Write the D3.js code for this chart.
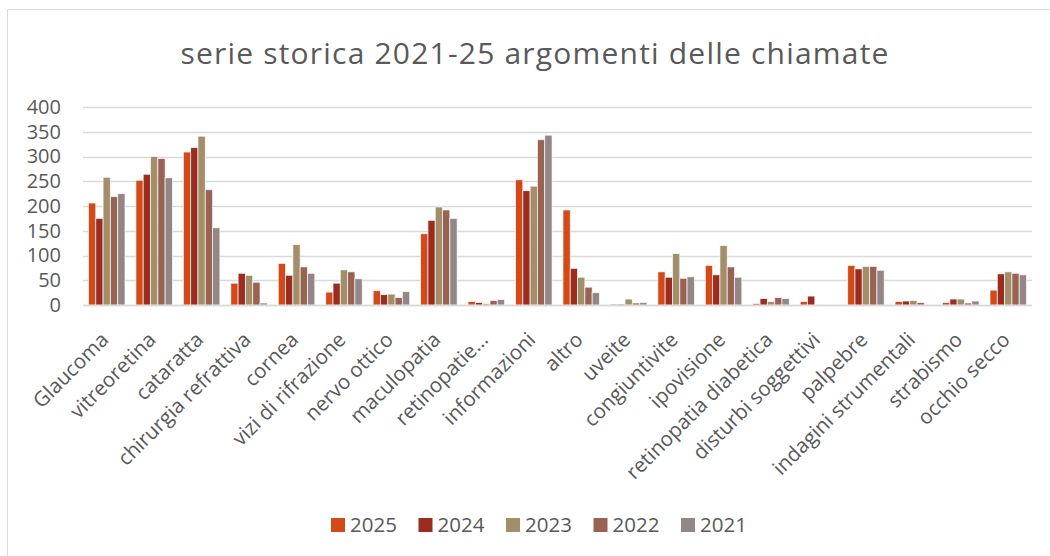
<!DOCTYPE html>
<html>
<head>
<meta charset="utf-8">
<script src="https://cdn.jsdelivr.net/npm/d3@7"></script>
<style>
  html, body { margin: 0; padding: 0; background: #fff; }
  svg { display: block; font-family: "Open Sans", sans-serif; }
</style>
</head>
<body>
<svg id="chart" width="1050" height="556"></svg>
<script>
// Topics of incoming calls, one group of bars per topic
const categories = [
  "Glaucoma", "vitreoretina", "cataratta", "chirurgia refrattiva", "cornea",
  "vizi di rifrazione", "nervo ottico", "maculopatia", "retinopatie…", "informazioni",
  "altro", "uveite", "congiuntivite", "ipovisione", "retinopatia diabetica",
  "disturbi soggettivi", "palpebre", "indagini strumentali", "strabismo", "occhio secco"
];

// Number of calls per year, in the same order as the categories
const years = ["2025", "2024", "2023", "2022", "2021"];
const v2025 = [206, 252, 309, 44, 84, 26, 29, 144, 7, 253, 192, 2, 67, 80, 3, 7, 80, 7, 5, 30];
const v2024 = [175, 264, 318, 64, 60, 44, 21, 171, 5, 231, 74, 2, 56, 61, 13, 18, 73, 8, 12, 63];
const v2023 = [258, 300, 341, 60, 122, 71, 22, 198, 3, 240, 56, 12, 104, 120, 7, 1, 78, 9, 12, 67];
const v2022 = [219, 296, 233, 46, 77, 67, 15, 192, 9, 334, 36, 4, 54, 77, 15, 0, 78, 5, 4, 64];
const v2021 = [225, 257, 156, 4, 64, 53, 27, 175, 11, 343, 25, 5, 57, 56, 13, 0, 70, 0, 8, 61];
const yTicks = [0, 50, 100, 150, 200, 250, 300, 350, 400];

const seriesValues = { "2025": v2025, "2024": v2024, "2023": v2023, "2022": v2022, "2021": v2021 };
const colors = {
  "2025": "#D24A18",
  "2024": "#9C2B20",
  "2023": "#A38E6A",
  "2022": "#986352",
  "2021": "#928686"
};

const svg = d3.select("#chart");
const textColor = "#595959";
const gridColor = "#D9D9D9";

// Outer chart frame (the right and bottom edges fall outside the view)
svg.append("path")
  .attr("d", "M7.5,560 V9.5 H1060")
  .attr("fill", "none")
  .attr("stroke", gridColor)
  .attr("stroke-width", 1);

// Title
svg.append("text")
  .attr("x", 535)
  .attr("y", 64)
  .attr("text-anchor", "middle")
  .attr("fill", textColor)
  .style("font-size", "30px")
  .style("letter-spacing", "1.2px")
  .text("serie storica 2021-25 argomenti delle chiamate");

// Plot area
const plot = { left: 83, right: 1032, top: 107, bottom: 305 };

const y = d3.scaleLinear().domain([0, 400]).range([plot.bottom, plot.top]);
const x0 = d3.scaleBand().domain(categories).range([plot.left, plot.right]);
const bw = x0.bandwidth();
const x1 = d3.scaleBand().domain(years).range([bw * 0.115, bw * 0.885]);

// Horizontal gridlines
svg.append("g")
  .selectAll("line")
  .data(yTicks)
  .join("line")
  .attr("x1", plot.left)
  .attr("x2", plot.right)
  .attr("y1", d => Math.round(y(d)) + 0.5)
  .attr("y2", d => Math.round(y(d)) + 0.5)
  .attr("stroke", gridColor)
  .attr("stroke-width", 1.3);

// Y axis labels
const yAxis = d3.axisLeft(y).tickValues(yTicks).tickSize(0).tickPadding(0);
const yg = svg.append("g")
  .attr("transform", `translate(${plot.left - 22},0)`)
  .call(yAxis);
yg.select(".domain").remove();
yg.selectAll("text")
  .attr("fill", textColor)
  .style("font-size", "20px")
  .style("font-family", "'Open Sans', sans-serif");

// Bars
const groups = svg.append("g")
  .selectAll("g")
  .data(categories)
  .join("g")
  .attr("transform", d => `translate(${x0(d)},0)`);

groups.selectAll("rect")
  .data((d, i) => years.map(yr => ({ year: yr, value: seriesValues[yr][i] })))
  .join("rect")
  .attr("x", d => x1(d.year))
  .attr("width", x1.bandwidth())
  .attr("y", d => y(d.value))
  .attr("height", d => plot.bottom - y(d.value))
  .attr("fill", d => colors[d.year])
  .attr("stroke", "rgba(255,255,255,0.75)")
  .attr("stroke-width", 0.9);

// Baseline
svg.append("line")
  .attr("x1", plot.left)
  .attr("x2", plot.right)
  .attr("y1", plot.bottom + 0.5)
  .attr("y2", plot.bottom + 0.5)
  .attr("stroke", gridColor)
  .attr("stroke-width", 1.5);

// Category labels, rotated
const xAxis = d3.axisBottom(x0).tickSize(0).tickPadding(0);
const xg = svg.append("g")
  .attr("transform", `translate(0,${plot.bottom})`)
  .call(xAxis);
xg.select(".domain").remove();
xg.selectAll("text")
  .attr("fill", textColor)
  .style("font-size", "20.5px")
  .style("font-family", "'Open Sans', sans-serif")
  .attr("text-anchor", "end")
  .attr("dy", null)
  .attr("y", 0)
  .attr("transform", "translate(3,36) rotate(-45)");

// Legend
const legend = svg.append("g")
  .selectAll("g")
  .data(years)
  .join("g")
  .attr("transform", (d, i) => `translate(${331 + i * 87.5},518)`);
legend.append("rect")
  .attr("width", 14)
  .attr("height", 14)
  .attr("fill", d => colors[d]);
legend.append("text")
  .attr("x", 19)
  .attr("y", 14)
  .attr("fill", textColor)
  .style("font-size", "20.5px")
  .text(d => d);
</script>
</body>
</html>
